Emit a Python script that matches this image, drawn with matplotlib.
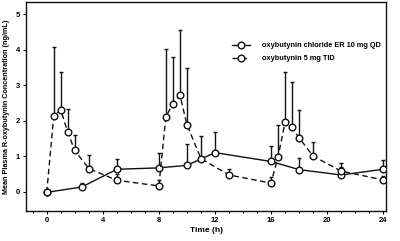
import numpy as np
import matplotlib
matplotlib.use("Agg")
import matplotlib.pyplot as plt
from matplotlib.ticker import MultipleLocator

plt.rcParams.update({
    "font.family": ["Liberation Sans", "DejaVu Sans"],
    "font.weight": "bold",
})

# ---- data ----
er_t = [0, 2.5, 5, 8, 10, 12, 16, 18, 21, 24]
er_mean = [-0.02, 0.13, 0.63, 0.67, 0.74, 1.10, 0.85, 0.62, 0.47, 0.63]
er_upper = [0.0, 0.25, 0.93, 1.08, 1.35, 1.68, 1.30, 0.95, 0.70, 0.89]

ir_t = [0, 0.5, 1, 1.5, 2, 3, 5, 8, 8.5, 9, 9.5, 10, 11, 13, 16, 16.5, 17, 17.5, 18, 19, 21, 24]
ir_mean = [-0.02, 2.13, 2.31, 1.67, 1.16, 0.65, 0.32, 0.16, 2.11, 2.48, 2.72, 1.89, 0.93,
           0.47, 0.24, 0.98, 1.96, 1.81, 1.52, 1.00, 0.58, 0.33]
ir_upper = [0.0, 4.08, 3.36, 2.33, 1.61, 1.02, 0.50, 0.33, 4.03, 3.79, 4.56, 3.48, 1.58,
            0.65, 0.40, 1.87, 3.38, 3.08, 2.31, 1.39, 0.81, 0.45]

labels = ["oxybutynin chloride ER 10 mg QD", "oxybutynin 5 mg TID"]
xticks = [0, 4, 8, 12, 16, 20, 24]
yticks = [0, 1, 2, 3, 4, 5]

INK = "#111111"
LW, MS = 1.0, 4.8

fig = plt.figure(figsize=(4.0, 2.41), dpi=100)
ax = fig.add_axes([0.066, 0.124, 0.899, 0.868])


def series(t, m, up, ls, label):
    t, m, up = np.asarray(t), np.asarray(m), np.asarray(up)
    err = np.vstack([np.zeros_like(m), np.clip(up - m, 0, None)])
    ax.errorbar(t, m, yerr=err, fmt="none", ecolor=INK, elinewidth=1.0,
                capsize=1.6, capthick=1.0, zorder=2)
    ax.plot(t, m, color=INK, lw=LW, ls=ls, dashes=(4, 2.5) if ls == "--" else (None, None),
            marker="o", ms=MS, mfc="white", mec=INK, mew=1.0, label=label, zorder=3)


series(er_t, er_mean, er_upper, "-", labels[0])
series(ir_t, ir_mean, ir_upper, "--", labels[1])

ax.set_xlim(-1.45, 24.2)
ax.set_ylim(-0.55, 5.35)
ax.set_xticks(xticks)
ax.set_yticks(yticks)
ax.xaxis.set_minor_locator(MultipleLocator(1))
ax.tick_params(axis="both", which="major", length=2.5, width=0.8, labelsize=5.5, pad=2)
ax.tick_params(axis="x", which="minor", length=1.5, width=0.7)
for sp in ax.spines.values():
    sp.set_linewidth(1.0)
    sp.set_color(INK)

ax.set_xlabel("Time (h)", fontsize=6, fontweight="bold", labelpad=2)
ax.set_ylabel("Mean Plasma R-oxybutynin Concentration (ng/mL)", fontsize=5.2,
              fontweight="bold", labelpad=4)

ax.legend(loc="upper right", bbox_to_anchor=(1.005, 0.84), frameon=False, fontsize=5.3,
          handlelength=2.4, handletextpad=1.7, labelspacing=0.8)

fig.savefig("out.png", dpi=100)
